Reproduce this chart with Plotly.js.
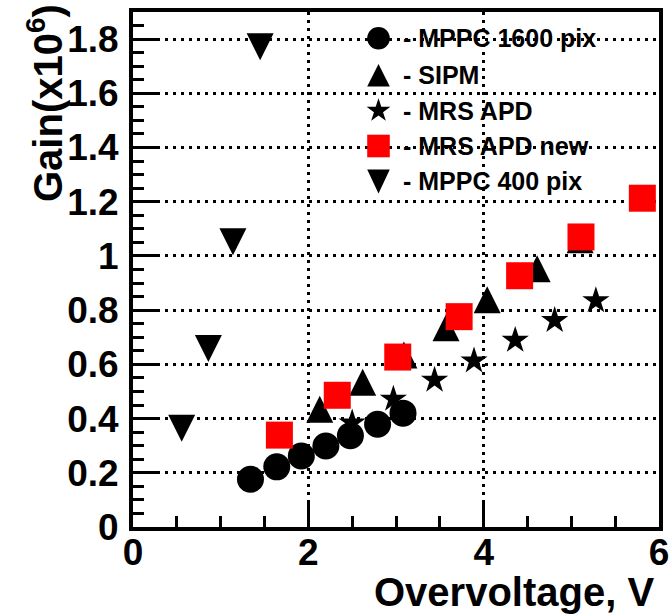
<!DOCTYPE html>
<html>
<head>
<meta charset="utf-8">
<script src="https://cdn.plot.ly/plotly-3.0.1.min.js"></script>
<style>
  html, body { margin: 0; padding: 0; background: #ffffff; }
  #chart { width: 672px; height: 616px; }
</style>
</head>
<body>
<div id="chart"></div>
<script>
// Gain (x10^6) versus overvoltage (V) for several photodetectors
const mppc1600X = [1.34, 1.64, 1.92, 2.20, 2.48, 2.79, 3.08];
const mppc1600Y = [0.176, 0.222, 0.262, 0.299, 0.337, 0.379, 0.420];

const sipmX = [2.13, 2.62, 3.09, 3.57, 4.04, 4.61, 5.10];
const sipmY = [0.434, 0.534, 0.635, 0.735, 0.838, 0.953, 1.060];

const mrsApdX = [2.50, 2.97, 3.44, 3.89, 4.36, 4.81, 5.28];
const mrsApdY = [0.384, 0.472, 0.542, 0.613, 0.689, 0.762, 0.835];

const mrsApdNewX = [1.67, 2.33, 3.02, 3.72, 4.41, 5.11, 5.81];
const mrsApdNewY = [0.339, 0.486, 0.627, 0.776, 0.927, 1.070, 1.213];

const mppc400X = [0.555, 0.86, 1.14, 1.45];
const mppc400Y = [0.364, 0.659, 1.052, 1.772];

const legendLabels = ['- MPPC 1600 pix', '- SIPM', '- MRS APD', '- MRS APD new', '- MPPC 400 pix'];

const FONT = 'Liberation Sans, Arial, Helvetica, sans-serif';
const RED = '#ff0000';

// Margins of the plotting frame, in pixels
const M = { l: 133, r: 13, t: 12, b: 89 };
const W = 672, H = 616;
const plotW = W - M.l - M.r;
const plotH = H - M.t - M.b;
const pxToPaperX = px => (px - M.l) / plotW;
const pxToPaperY = py => (H - M.b - py) / plotH;

// Pixel-space marker paths (y grows upwards in pixel-sized shapes)
function triPath(half, hh, down) {
  const s = down ? -1 : 1;
  return `M${-half},${-s * hh} L${half},${-s * hh} L0,${s * hh} Z`;
}
function starPath(R) {
  const r = R * 0.382;
  let d = '';
  for (let i = 0; i < 10; i++) {
    const a = (90 + i * 36) * Math.PI / 180;
    const rad = i % 2 === 0 ? R : r;
    d += (i === 0 ? 'M' : 'L') + (rad * Math.cos(a)).toFixed(2) + ',' + (rad * Math.sin(a)).toFixed(2);
  }
  return d + 'Z';
}

function triangleShapes(xs, ys, down) {
  return xs.map((x, i) => ({
    type: 'path', xref: 'x', yref: 'y',
    xsizemode: 'pixel', ysizemode: 'pixel',
    xanchor: x, yanchor: ys[i],
    path: triPath(13.5, 13.5, down),
    fillcolor: '#000000', line: { width: 0 },
    layer: 'between'
  }));
}

const traces = [
  {
    type: 'scatter', mode: 'markers', name: 'MPPC 1600 pix',
    x: mppc1600X, y: mppc1600Y,
    marker: { symbol: 'circle', size: 27, color: '#000000', line: { width: 0 } },
    hoverinfo: 'skip', showlegend: false
  },
  {
    type: 'scatter', mode: 'markers', name: 'MRS APD',
    x: mrsApdX, y: mrsApdY,
    marker: { symbol: 'star', size: 20.5, color: '#000000', line: { width: 0 } },
    hoverinfo: 'skip', showlegend: false
  },
  {
    type: 'scatter', mode: 'markers', name: 'MRS APD new',
    x: mrsApdNewX, y: mrsApdNewY,
    marker: { symbol: 'square', size: 27, color: RED, line: { width: 0 } },
    hoverinfo: 'skip', showlegend: false
  }
];

// Hand-drawn key: symbols plus labels
const keyX = pxToPaperX(378.5);
const keyTextX = pxToPaperX(401);
const keyRows = [38.3, 75.3, 110.7, 146, 181.4].map(pxToPaperY);

function keyShape(kind, yp) {
  const base = { xref: 'paper', yref: 'paper', xsizemode: 'pixel', ysizemode: 'pixel',
                 xanchor: keyX, yanchor: yp, line: { width: 0 }, layer: 'above' };
  if (kind === 'circle') return Object.assign(base, { type: 'circle', x0: -11.3, x1: 11.3, y0: -11.3, y1: 11.3, fillcolor: '#000000' });
  if (kind === 'up') return Object.assign(base, { type: 'path', path: triPath(11.3, 11.3, false), fillcolor: '#000000' });
  if (kind === 'star') return Object.assign(base, { type: 'path', path: starPath(12.5), fillcolor: '#000000' });
  if (kind === 'square') return Object.assign(base, { type: 'rect', x0: -11.3, x1: 11.3, y0: -11.3, y1: 11.3, fillcolor: RED });
  return Object.assign(base, { type: 'path', path: triPath(11.3, 12, true), fillcolor: '#000000' });
}
const keyKinds = ['circle', 'up', 'star', 'square', 'down'];

const shapes = []
  .concat(triangleShapes(sipmX, sipmY, false))
  .concat(triangleShapes(mppc400X, mppc400Y, true))
  .concat(keyKinds.map((k, i) => keyShape(k, keyRows[i])));

const annotations = legendLabels.map((t, i) => ({
  xref: 'paper', yref: 'paper', x: keyTextX, y: keyRows[i],
  xanchor: 'left', yanchor: 'middle', showarrow: false,
  text: t, font: { family: FONT, size: 25, color: '#000000', weight: 'bold' }
}));

annotations.push({
  xref: 'paper', yref: 'paper', x: pxToPaperX(656), y: pxToPaperY(616),
  xanchor: 'right', yanchor: 'bottom', showarrow: false,
  text: 'Overvoltage, V',
  font: { family: FONT, size: 40, color: '#000000', weight: 'bold' }
});
annotations.push({
  xref: 'paper', yref: 'paper', x: pxToPaperX(45), y: pxToPaperY(2),
  xanchor: 'center', yanchor: 'top', showarrow: false, textangle: -90,
  text: 'Gain(x10<sup>6</sup>)',
  font: { family: FONT, size: 40, color: '#000000', weight: 'bold' }
});

const gridStyle = { showgrid: true, gridcolor: '#000000', gridwidth: 3, griddash: '3px,5px' };
const tickFont = { family: FONT, size: 37, color: '#000000', weight: 'bold' };

const layout = {
  width: W, height: H,
  margin: M,
  paper_bgcolor: '#ffffff', plot_bgcolor: '#ffffff',
  showlegend: false,
  xaxis: Object.assign({
    range: [0, 6], tick0: 0, dtick: 2,
    ticks: 'inside', ticklen: 24, tickwidth: 3, tickcolor: '#000000',
    minor: { dtick: 0.5, ticks: 'inside', ticklen: 11, tickwidth: 3, tickcolor: '#000000', showgrid: false },
    showline: true, linewidth: 4, linecolor: '#000000', mirror: true,
    zeroline: false, ticklabelstandoff: -10,
    tickfont: tickFont
  }, gridStyle),
  yaxis: Object.assign({
    range: [0, 1.9], tick0: 0, dtick: 0.2,
    ticks: 'inside', ticklen: 24, tickwidth: 3, tickcolor: '#000000',
    minor: { dtick: 0.05, ticks: 'inside', ticklen: 11, tickwidth: 3, tickcolor: '#000000', showgrid: false },
    showline: true, linewidth: 4, linecolor: '#000000', mirror: true,
    zeroline: false, ticklabelstandoff: 3,
    tickfont: tickFont
  }, gridStyle),
  shapes: shapes,
  annotations: annotations
};

Plotly.newPlot('chart', traces, layout, { displayModeBar: false, staticPlot: true });
</script>
</body>
</html>
